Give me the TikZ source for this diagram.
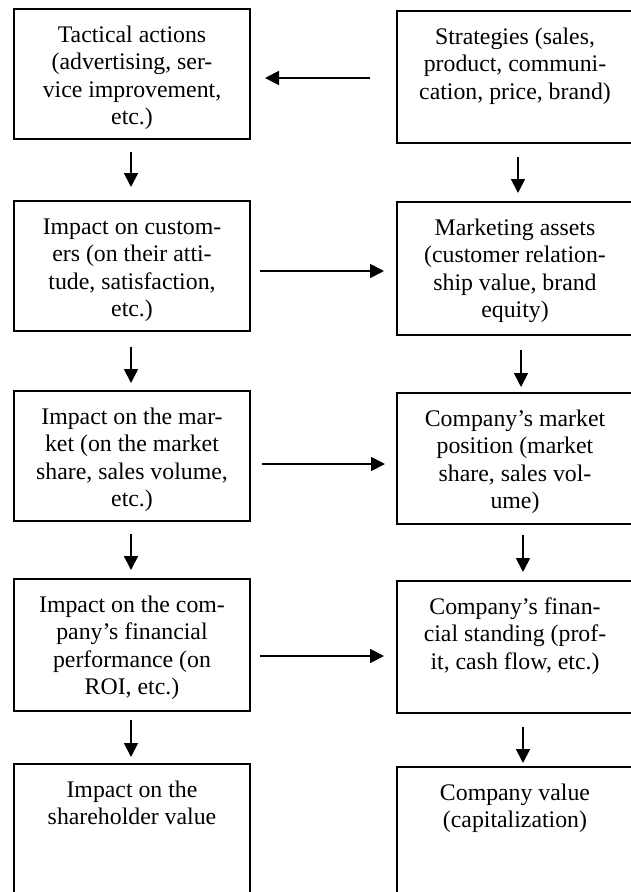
\documentclass[tikz,border=0pt]{standalone}
\usepackage{fontspec}
\setmainfont{Liberation Serif}
\usetikzlibrary{arrows.meta}
\begin{document}
\begin{tikzpicture}[x=1pt,y=-1pt,
  box/.style={draw, line width=2pt, rectangle, minimum width=236pt,
    inner sep=0pt, anchor=north west},
  boxtext/.style={anchor=base, align=flush center, text width=236pt, inner sep=0pt,
    font=\fontsize{23.8}{27.5}\selectfont},
  flow/.style={-{Triangle[length=14pt,width=14pt]}, line width=1.8pt}
]
\useasboundingbox (0,0) rectangle (630,892);

% left column
\node[box, minimum height=130pt] (L1) at (13,8) {};
\node[box, minimum height=130pt] (L2) at (13,200) {};
\node[box, minimum height=130pt] (L3) at (13,390) {};
\node[box, minimum height=132pt] (L4) at (13,578) {};
\node[box, minimum height=160pt] (L5) at (13,763) {};

% right column
\node[box, minimum height=132pt] (R1) at (396,10) {};
\node[box, minimum height=133pt] (R2) at (396,201) {};
\node[box, minimum height=131pt] (R3) at (396,392) {};
\node[box, minimum height=132pt] (R4) at (396,580) {};
\node[box, minimum height=160pt] (R5) at (396,766) {};

% box texts
\node[boxtext] (L1t) at ([yshift=-34pt]L1.north) {Tactical actions\\(advertising, ser-\\vice improvement,\\etc.)};
\node[boxtext] (L2t) at ([yshift=-34pt]L2.north) {Impact on custom-\\ers (on their atti-\\tude, satisfaction,\\etc.)};
\node[boxtext] (L3t) at ([yshift=-34pt]L3.north) {Impact on the mar-\\ket (on the market\\share, sales volume,\\etc.)};
\node[boxtext] (L4t) at ([yshift=-34pt]L4.north) {Impact on the com-\\pany’s financial\\performance (on\\ROI, etc.)};
\node[boxtext] (L5t) at ([yshift=-34pt]L5.north) {Impact on the\\shareholder value};

\node[boxtext] (R1t) at ([yshift=-34pt]R1.north) {Strategies (sales,\\product, communi-\\cation, price, brand)};
\node[boxtext] (R2t) at ([yshift=-34pt]R2.north) {Marketing assets\\(customer relation-\\ship value, brand\\equity)};
\node[boxtext] (R3t) at ([yshift=-34pt]R3.north) {Company’s market\\position (market\\share, sales vol-\\ume)};
\node[boxtext] (R4t) at ([yshift=-34pt]R4.north) {Company’s finan-\\cial standing (prof-\\it, cash flow, etc.)};
\node[boxtext] (R5t) at ([yshift=-34pt]R5.north) {Company value\\(capitalization)};

% vertical flow, left column
\draw[flow, shorten <=12pt, shorten >=13pt] ([xshift=-1pt]L1.south) -- ([xshift=-1pt]L2.north);
\draw[flow, shorten <=15pt, shorten >=7pt] ([xshift=-1pt]L2.south) -- ([xshift=-1pt]L3.north);
\draw[flow, shorten <=12pt, shorten >=8pt] ([xshift=-1pt]L3.south) -- ([xshift=-1pt]L4.north);
\draw[flow, shorten <=8pt, shorten >=6pt] ([xshift=-1pt]L4.south) -- ([xshift=-1pt]L5.north);

% vertical flow, right column
\draw[flow, shorten <=13pt, shorten >=8pt] ([xshift=3pt]R1.south) -- ([xshift=3pt]R2.north);
\draw[flow, shorten <=14pt, shorten >=5pt] ([xshift=6pt]R2.south) -- ([xshift=6pt]R3.north);
\draw[flow, shorten <=10pt, shorten >=8pt] ([xshift=8pt]R3.south) -- ([xshift=8pt]R4.north);
\draw[flow, shorten <=13pt, shorten >=3pt] ([xshift=8pt]R4.south) -- ([xshift=8pt]R5.north);

% horizontal links
\draw[flow, shorten <=26pt, shorten >=14pt] (R1.west |- 0,78) -- (L1.east |- 0,78);
\draw[flow, shorten <=9pt, shorten >=12pt] (L2.east |- 0,271) -- (R2.west |- 0,271);
\draw[flow, shorten <=11pt, shorten >=11pt] (L3.east |- 0,464) -- (R3.west |- 0,464);
\draw[flow, shorten <=9pt, shorten >=12pt] (L4.east |- 0,656) -- (R4.west |- 0,656);
\end{tikzpicture}
\end{document}
